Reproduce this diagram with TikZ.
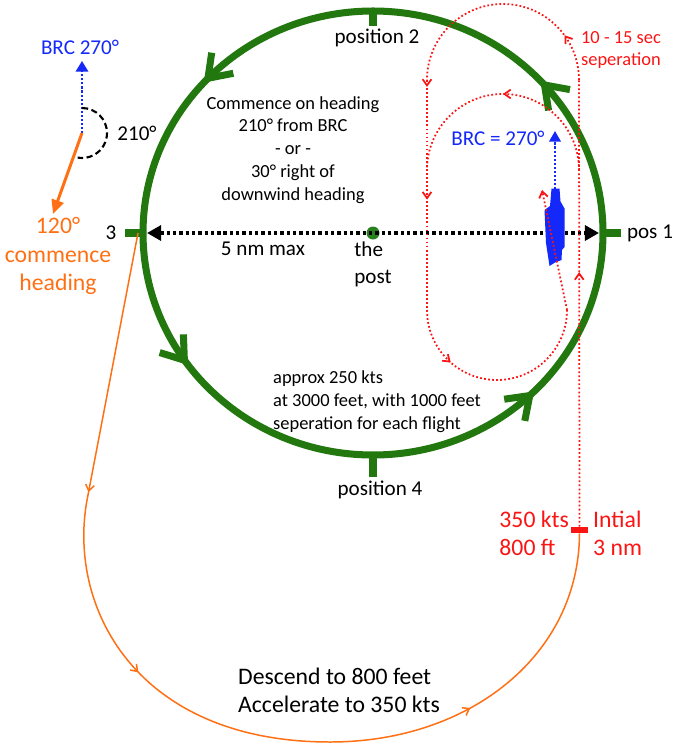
\documentclass[tikz,border=0pt]{standalone}
\usepackage{fontspec}
\setmainfont{Carlito}
\usetikzlibrary{arrows.meta,decorations.markings,positioning}
\definecolor{patgreen}{RGB}{34,120,14}
\definecolor{postgreen}{RGB}{40,128,30}
\definecolor{brcblue}{RGB}{20,40,250}
\definecolor{casered}{RGB}{250,20,20}
\definecolor{breakorange}{RGB}{255,112,20}
\tikzset{
  smalltxt/.style={font=\fontsize{10.5}{13}\selectfont},
  midtxt/.style={font=\fontsize{12}{15.3}\selectfont},
  bigtxt/.style={font=\fontsize{13.5}{16}\selectfont},
  flowmark/.style={postaction={decorate,decoration={markings,mark=at position #1 with {\arrow{Straight Barb[length=3.5pt,width=5pt]}}}}},
  holdmark/.style={postaction={decorate,decoration={markings,mark=at position #1 with {\arrow{Straight Barb[length=12pt,width=17pt]}}}}},
  postick/.style={patgreen,line width=4pt},
  redroute/.style={casered,line width=1pt,dash pattern=on 1pt off 1.3pt},
  bluedots/.style={brcblue,line width=1.2pt,dash pattern=on 1.2pt off 1.1pt},
  orangeroute/.style={breakorange,line width=0.85pt},
}
\begin{document}
\begin{tikzpicture}[x=0.2mm,y=-0.2mm]
\useasboundingbox (0,0) rectangle (680,750);
\coordinate (p1) at (603,233);
\coordinate (p3) at (143,233);
\coordinate (w3) at (147,233);
\coordinate (e1) at (599,233);
\draw[patgreen,line width=4pt,holdmark=0.119,holdmark=0.383,holdmark=0.6,holdmark=0.875] (p1) arc[start angle=0,end angle=-360,x radius=230,y radius=222];
\draw[postick] (p1) -- ++(18,0);
\draw[postick] (p3) -- ++(-18,0);
\draw[postick] (373,11) -- ++(0,15);
\draw[postick] (373,455) -- ++(0,22);
\node[circle,fill=postgreen,inner sep=0,minimum size=7.4pt] (post) at (373,233) {};
\draw[line width=1.9pt,dash pattern=on 1.9pt off 1.7pt,{Triangle[length=8pt,width=8.5pt]}-{Triangle[length=8pt,width=8.5pt]}] (w3) -- (e1);
\node[midtxt] (pos2) at (377,38) {position 2};
\node[midtxt] (pos4) at (380,490) {position 4};
\node[midtxt] (pos3) at (111,233) {3};
\node[midtxt] (pos1) at (650,233) {pos 1};
\node[midtxt] (range) at (263,249) {5 nm max};
\node[midtxt,align=left] (postlbl) at (373,264) {the\\post};
\node[smalltxt,align=center] (commence) at (293,150) {Commence on heading\\210° from BRC\\- or -\\30° right of\\downwind heading};
\node[smalltxt,align=left,anchor=west] (holding) at (267,402) {approx 250 kts\\at 3000 feet, with 1000 feet\\seperation for each flight};
\node[bigtxt,align=left,anchor=west] (descend) at (232,690) {Descend to 800 feet\\Accelerate to 350 kts};
\node[fill=casered,minimum width=9.6pt,minimum height=3.4pt,inner sep=0] (initialbar) at (579.5,530) {};
\node[bigtxt,align=left,anchor=east,casered] (speed) at (575,533) {350 kts\\800 ft};
\node[bigtxt,align=left,anchor=west,casered] (initlbl) at (587,533) {Intial\\3 nm};
\node[smalltxt,align=left,casered] (sep) at (621,50) {10 - 15 sec\\seperation};
\coordinate (bow) at (555,189);
\coordinate (brctip) at (555,131);
\fill[brcblue] (551.5,188.5) -- (559.5,188.5) -- (560.5,201.5) -- (564.5,208.5) -- (564.5,247) -- (562,250) -- (561.5,260) -- (555,262.5) -- (549.5,266) -- (546,243) -- (544.5,210) -- (550,206) -- cycle;
\draw[bluedots,-{Triangle[length=6pt,width=6.5pt]}] (bow) -- (brctip);
\node[midtxt,brcblue] (brcship) at (498,138) {BRC = 270°};
\draw[redroute,flowmark=0.57] (initialbar.north) -- (579,80);
\draw[redroute,flowmark=0.2] (579,80) arc[start angle=0,end angle=-180,radius=76];
\draw[redroute,flowmark=0.5] (579,170) arc[start angle=0,end angle=-180,radius=76];
\draw[redroute,flowmark=0.03,flowmark=0.52] (427,80) -- (427,310);
\draw[redroute,flowmark=0.27] (427,310) arc[start angle=180,end angle=0,radius=70];
\draw[redroute,-{Straight Barb[length=3.5pt,width=5pt]}] (567,310) -- (542,190);
\draw[orangeroute,flowmark=0.256,flowmark=0.445,flowmark=0.79] (138,233) -- (88,495) .. controls (65,605) and (135,742) .. (330,742) .. controls (470,742) and (579,655) .. (initialbar.south);
\coordinate (vertex) at (82,133);
\coordinate (brcup) at (82,61);
\coordinate (commtip) at (53,214);
\draw[bluedots,-{Triangle[length=6pt,width=7pt]}] (vertex) -- (brcup);
\draw[line width=1.2pt,dash pattern=on 3.5pt off 2pt] (vertex) ++(0,-25) arc[start angle=-90,end angle=100,radius=25];
\draw[breakorange,line width=1.7pt,-{Triangle[length=8pt,width=7pt]}] (vertex) -- (commtip);
\node[midtxt,brcblue] (brcref) at (80,47) {BRC 270°};
\node[midtxt] (turnang) at (137,133) {210°};
\node[bigtxt,breakorange,align=center] (commhead) at (58,256) {120°\\commence\\heading};
\end{tikzpicture}
\end{document}
